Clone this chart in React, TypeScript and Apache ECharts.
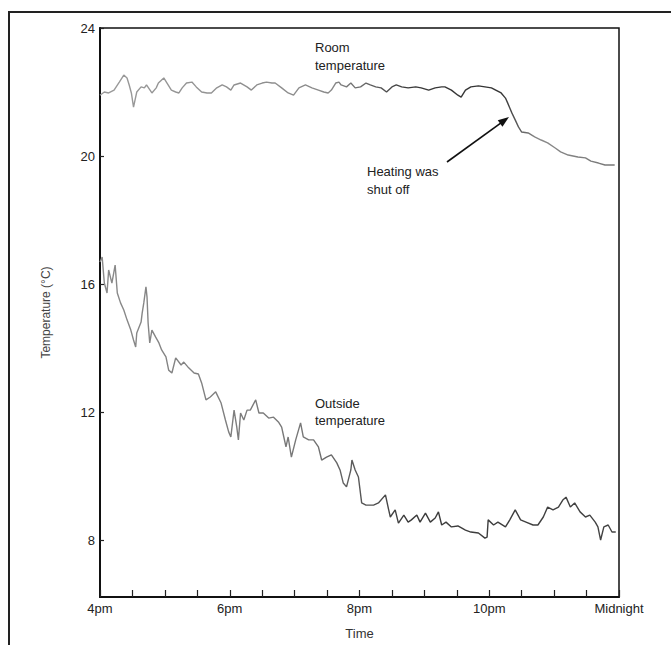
import React, { useEffect, useRef } from "react";
import * as echarts from "echarts";

// Minutes after 4pm and temperatures (°C)
const roomMinutes = [0, 4, 8, 13, 18, 22, 25, 27, 29, 31, 34, 38, 41, 43, 48, 52, 54, 59, 62, 66, 70, 73, 76, 80, 85, 89, 94, 99, 103, 108, 113, 117, 121, 124, 130, 136, 140, 145, 150, 154, 159, 162, 168, 174, 179, 184, 190, 196, 202, 207, 211, 214, 218, 221, 223, 228, 232, 236, 241, 246, 250, 255, 260, 265, 270, 274, 279, 285, 292, 297, 304, 310, 316, 319, 325, 331, 334, 338, 343, 350, 356, 362, 366, 371, 375, 377, 379, 381, 384, 387, 390, 396, 402, 408, 414, 421, 426, 433, 442, 449, 454, 461, 467, 473, 476];
const roomTemps = [21.9, 22.0, 21.97, 22.06, 22.32, 22.53, 22.44, 22.22, 21.97, 21.53, 22.0, 22.16, 22.13, 22.22, 21.97, 22.13, 22.28, 22.44, 22.28, 22.06, 22.0, 21.97, 22.13, 22.28, 22.31, 22.16, 22.0, 21.97, 21.97, 22.13, 22.22, 22.16, 22.06, 22.22, 22.28, 22.16, 22.06, 22.22, 22.28, 22.31, 22.28, 22.28, 22.13, 21.97, 21.9, 22.13, 22.22, 22.13, 22.06, 22.0, 21.97, 22.06, 22.28, 22.31, 22.22, 22.16, 22.28, 22.13, 22.16, 22.28, 22.22, 22.16, 22.13, 22.0, 22.16, 22.22, 22.16, 22.13, 22.16, 22.13, 22.06, 22.13, 22.16, 22.16, 22.06, 21.9, 21.84, 22.06, 22.16, 22.19, 22.16, 22.13, 22.06, 21.97, 21.81, 21.66, 21.5, 21.34, 21.13, 20.91, 20.75, 20.72, 20.6, 20.5, 20.41, 20.25, 20.13, 20.03, 19.97, 19.94, 19.84, 19.78, 19.72, 19.72, 19.72];

const outsideMinutes = [0, 2, 4, 6.5, 8, 11, 14, 16, 19, 22, 25, 28.5, 31, 33, 34, 38, 39, 40.5, 42.5, 43.5, 44.5, 46, 48, 51.5, 54.5, 57, 61, 63.5, 66.5, 70, 75, 77.5, 82, 87, 91, 94, 98, 102, 107, 112, 116, 119, 121, 124, 126.5, 128, 130, 133, 136, 139, 144, 147, 151, 156, 160.5, 165, 168, 170, 172, 174, 177, 181, 185.5, 188, 193, 197.5, 202, 205, 209.5, 214, 219, 222, 225, 228, 232, 233, 236, 239, 242, 246, 253, 257.5, 264, 267, 268.5, 273, 276, 281, 285, 288, 293, 296, 301, 305.5, 310, 313, 316, 320, 325, 331, 338, 343, 350, 356, 358, 359, 364, 368, 375, 379, 384, 389, 394, 400.5, 405, 410, 414, 419, 424, 428, 431, 435, 439, 444, 449, 453, 458, 460.5, 463, 466, 470, 473.5, 477];
const outsideTemps = [16.69, 16.84, 16.03, 15.72, 16.44, 16.03, 16.59, 15.72, 15.41, 15.19, 14.88, 14.56, 14.25, 14.03, 14.47, 14.81, 15.09, 15.41, 15.91, 15.59, 14.78, 14.16, 14.56, 14.34, 14.16, 13.94, 13.72, 13.31, 13.22, 13.69, 13.47, 13.56, 13.38, 13.22, 13.19, 12.91, 12.38, 12.47, 12.63, 12.28, 11.75, 11.38, 11.22, 12.06, 11.53, 11.13, 11.97, 11.75, 12.06, 12.06, 12.38, 11.97, 11.97, 11.81, 11.84, 11.69, 11.53, 11.22, 10.91, 11.22, 10.59, 11.13, 11.66, 11.22, 11.13, 11.13, 10.91, 10.5, 10.59, 10.66, 10.41, 10.19, 9.78, 9.66, 10.19, 10.5, 10.19, 9.97, 9.16, 9.09, 9.09, 9.16, 9.41, 8.94, 8.72, 8.94, 8.53, 8.78, 8.56, 8.63, 8.78, 8.56, 8.84, 8.56, 8.69, 8.88, 8.47, 8.56, 8.41, 8.44, 8.31, 8.25, 8.22, 8.06, 8.09, 8.63, 8.47, 8.56, 8.41, 8.63, 8.94, 8.63, 8.56, 8.47, 8.47, 8.72, 9.03, 8.94, 9.03, 9.25, 9.34, 9.03, 9.16, 8.88, 8.72, 8.78, 8.56, 8.41, 8.0, 8.41, 8.47, 8.25, 8.25];

const yTickValues = [8, 12, 16, 20, 24];
const xTickLabels: Record<number, string> = { 0: "4pm", 120: "6pm", 240: "8pm", 360: "10pm", 480: "Midnight" };

const FONT = "'Liberation Sans', Arial, Helvetica, sans-serif";

export default function App() {
  const ref = useRef<HTMLDivElement>(null);

  useEffect(() => {
    if (!ref.current) return;
    const chart = echarts.init(ref.current, null, { renderer: "svg" });

    const roomData = roomMinutes.map((m, i) => [m, roomTemps[i]]);
    const outsideData = outsideMinutes.map((m, i) => [m, outsideTemps[i]]);

    // arrow geometry
    const tail = [447, 162];
    const tip = [509, 117];
    const dx = tip[0] - tail[0];
    const dy = tip[1] - tail[1];
    const len = Math.sqrt(dx * dx + dy * dy);
    const ux = dx / len;
    const uy = dy / len;
    const baseX = tip[0] - ux * 11;
    const baseY = tip[1] - uy * 11;
    const px = -uy;
    const py = ux;

    const label = (x: number, y: number, text: string, size = 13) => ({
      type: "text",
      x,
      y,
      silent: true,
      z: 10,
      style: { text, fontFamily: FONT, fontSize: size, fill: "#222", verticalAlign: "middle", align: "left" },
    });

    chart.setOption({
      animation: false,
      backgroundColor: "#fff",
      grid: {
        left: 100,
        top: 28,
        width: 519,
        height: 569,
        show: true,
        borderColor: "#111",
        borderWidth: 1.5,
        containLabel: false,
      },
      xAxis: {
        type: "value",
        min: 0,
        max: 480,
        interval: 30,
        name: "Time",
        nameLocation: "middle",
        nameGap: 30,
        nameTextStyle: { fontFamily: FONT, fontSize: 13, color: "#333" },
        axisLine: { show: true, lineStyle: { color: "#111", width: 2 } },
        axisTick: { show: true, inside: true, length: 7, lineStyle: { color: "#222", width: 1.2 } },
        axisLabel: {
          margin: 5,
          fontFamily: FONT,
          fontSize: 13,
          color: "#222",
          formatter: (v: number) => xTickLabels[v] ?? "",
        },
        splitLine: { show: false },
      },
      yAxis: {
        type: "value",
        min: 6.22,
        max: 24,
        name: "Temperature (°C)",
        nameLocation: "middle",
        nameGap: 48,
        nameRotate: 90,
        nameTextStyle: { fontFamily: FONT, fontSize: 12, color: "#444" },
        axisLine: { show: true, lineStyle: { color: "#111", width: 2 } },
        axisTick: { show: true, inside: true, length: 4, customValues: yTickValues, lineStyle: { color: "#222", width: 1.2 } },
        axisLabel: {
          margin: 5,
          fontFamily: FONT,
          fontSize: 13,
          color: "#222",
          customValues: yTickValues,
        },
        splitLine: { show: false },
      },
      series: [
        {
          name: "Room temperature",
          type: "line",
          data: roomData,
          showSymbol: false,
          symbol: "none",
          lineStyle: {
            width: 1.4,
            color: new echarts.graphic.LinearGradient(0, 0, 1, 0, [
              { offset: 0, color: "#9a9a9a" },
              { offset: 0.45, color: "#8a8a8a" },
              { offset: 0.6, color: "#3a3a3a" },
              { offset: 0.78, color: "#333" },
              { offset: 0.85, color: "#8a8a8a" },
              { offset: 1, color: "#777" },
            ]),
          },
        },
        {
          name: "Outside temperature",
          type: "line",
          data: outsideData,
          showSymbol: false,
          symbol: "none",
          lineStyle: {
            width: 1.4,
            color: new echarts.graphic.LinearGradient(0, 0, 1, 0, [
              { offset: 0, color: "#8a8a8a" },
              { offset: 0.4, color: "#777" },
              { offset: 0.6, color: "#3a3a3a" },
              { offset: 1, color: "#444" },
            ]),
          },
        },
      ],
      graphic: [
        // outer frame: top and left edges (filled bars)
        {
          type: "rect",
          silent: true,
          z: 10,
          shape: { x: 8, y: 11, width: 663, height: 2 },
          style: { fill: "#222" },
        },
        {
          type: "rect",
          silent: true,
          z: 10,
          shape: { x: 8, y: 11, width: 2, height: 634 },
          style: { fill: "#222" },
        },
        label(315, 47, "Room"),
        label(315, 65, "temperature"),
        label(367, 171, "Heating was"),
        label(367, 189, "shut off"),
        label(315, 403, "Outside"),
        label(315, 420, "temperature"),
        {
          type: "line",
          silent: true,
          z: 10,
          shape: { x1: tail[0], y1: tail[1], x2: baseX + ux * 2, y2: baseY + uy * 2 },
          style: { stroke: "#111", lineWidth: 1.6 },
        },
        {
          type: "polygon",
          silent: true,
          z: 10,
          shape: {
            points: [
              [tip[0], tip[1]],
              [baseX + px * 4, baseY + py * 4],
              [baseX - px * 4, baseY - py * 4],
            ],
          },
          style: { fill: "#111" },
        },
      ],
    });

    return () => chart.dispose();
  }, []);

  return (
    <div
      ref={ref}
      style={{ position: "absolute", left: 0, top: 0, width: 671, height: 645 }}
    />
  );
}
